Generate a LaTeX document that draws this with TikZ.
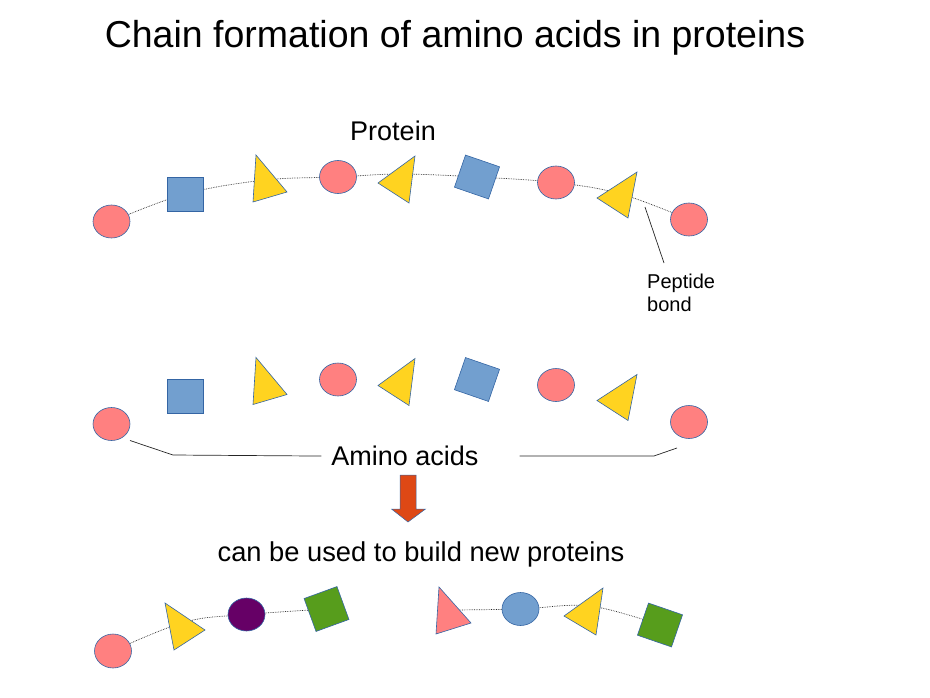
\documentclass[tikz,border=0pt]{standalone}
\usepackage{fontspec}
\setmainfont{Liberation Sans}
\usetikzlibrary{shapes,backgrounds,positioning}

\definecolor{acidpink}{HTML}{FF8080}
\definecolor{acidyellow}{HTML}{FFD320}
\definecolor{acidblue}{HTML}{729FCF}
\definecolor{acidgreen}{HTML}{579D1C}
\definecolor{acidpurple}{HTML}{660066}
\definecolor{arrowred}{HTML}{DE4815}
\definecolor{edgeblue}{HTML}{3465A4}

\begin{document}
\begin{tikzpicture}[x=1pt,y=-1pt]
	\tikzstyle{Acid}  = [draw=edgeblue, line width=0.6pt]
	\tikzstyle{Round} = [Acid, ellipse, minimum width=37pt, minimum height=33pt, inner sep=0pt]
	\tikzstyle{Box}   = [Acid, rectangle, minimum width=36pt, minimum height=34pt, inner sep=0pt]
	\tikzstyle{Bond}  = [densely dotted, line width=0.7pt, black!85]
	\tikzstyle{Lead}  = [line width=0.7pt, black!85]
	\tikzstyle{Big}   = [inner sep=0pt, font=\fontsize{27}{32}\selectfont]

	\useasboundingbox (0,0) rectangle (930,697);

	\node (title) at (455,47.3) [anchor=base, inner sep=0pt, font=\fontsize{37.5}{44}\selectfont] {Chain formation of amino acids in proteins};
	\node (protein) at (393,140) [anchor=base, Big] {Protein};

	% protein chain (t) and the loose amino acids (m)
	\foreach \r/\dy in {t/0, m/202.5} {
		\begin{scope}[shift={(0,\dy)}]
			\node (\r-c1) at (111.5,221.5) [Round, fill=acidpink] {};
			\node (\r-s1) at (185,194) [Box, fill=acidblue] {};
			\filldraw[Acid, fill=acidyellow] (256,155) -- (287,192) -- (253,202) -- cycle;
			\coordinate (\r-t1) at (265,180);
			\node (\r-c2) at (338,177) [Round, fill=acidpink] {};
			\filldraw[Acid, fill=acidyellow] (415,156) -- (378,183) -- (409,203) -- cycle;
			\coordinate (\r-t2) at (400,174);
			\node (\r-s2) at (477,177) [Box, fill=acidblue, rotate=-19] {};
			\node (\r-c3) at (556,182.5) [Round, fill=acidpink] {};
			\filldraw[Acid, fill=acidyellow] (637,172) -- (597,198) -- (628,218) -- cycle;
			\coordinate (\r-t3) at (621,194);
			\node (\r-c4) at (689,219.5) [Round, fill=acidpink] {};
		\end{scope}
	}

	% peptide bond label
	\node (pep) at (647,273.4) [anchor=north west, align=left, inner sep=0pt, font=\fontsize{20}{23}\selectfont] {Peptide\\bond};
	\coordinate (bondpt) at (645,207);
	\coordinate (pepend) at (664,263);
	\draw[Lead] (bondpt) -- (pepend);

	% amino acids bracket
	\node (amino) at (405,465.7) [anchor=base, Big] {Amino acids};
	\draw[Lead] (m-c1.center) ++(18.5,16.5) -- ++(43,14.5) -- ([xshift=-10pt]amino.west);
	\draw[Lead] ([xshift=41pt]amino.east) -- ++(134,0) -- ([shift={(-12,26)}]m-c4.center);

	% arrow
	\filldraw[draw=edgeblue, line width=0.5pt, fill=arrowred] (400,475) -- (416,475) -- (416,509) -- (425.5,509) -- (408,522) -- (391.5,509) -- (400,509) -- cycle;

	\node (reuse) at (421,561.5) [anchor=base, Big, font=\fontsize{27.3}{32}\selectfont] {can be used to build new proteins};

	% new proteins
	\node (b-c1) at (113,651) [Round, fill=acidpink, minimum height=34pt] {};
	\filldraw[Acid, fill=acidyellow] (165,603) -- (205,630) -- (174,650) -- cycle;
	\coordinate (b-t1) at (185,622);
	\node (b-c2) at (246.5,614.5) [Round, fill=acidpurple] {};
	\node (b-s1) at (326.5,609) [Box, fill=acidgreen, rotate=20, minimum width=35pt, minimum height=35pt] {};

	\filldraw[Acid, fill=acidpink] (439,587) -- (471,623) -- (436,634) -- cycle;
	\coordinate (b-t2) at (452,610);
	\node (b-c3) at (520.5,609) [Round, fill=acidblue] {};
	\filldraw[Acid, fill=acidyellow] (603,588) -- (564,616) -- (596,635) -- cycle;
	\coordinate (b-t3) at (590,606);
	\node (b-s2) at (660,625) [Box, fill=acidgreen, rotate=-19] {};

	\begin{scope}[on background layer]
		\draw[Bond] plot[smooth, tension=0.6] coordinates {(t-c1) (t-s1) (t-t1) (t-c2) (t-t2) (t-s2) (t-c3) (t-t3) (t-c4)};
		\draw[Bond] plot[smooth, tension=0.6] coordinates {(b-c1) (b-t1) (b-c2) (b-s1)};
		\draw[Bond] plot[smooth, tension=0.6] coordinates {(b-t2) (b-c3) (b-t3) (b-s2)};
	\end{scope}
\end{tikzpicture}
\end{document}
